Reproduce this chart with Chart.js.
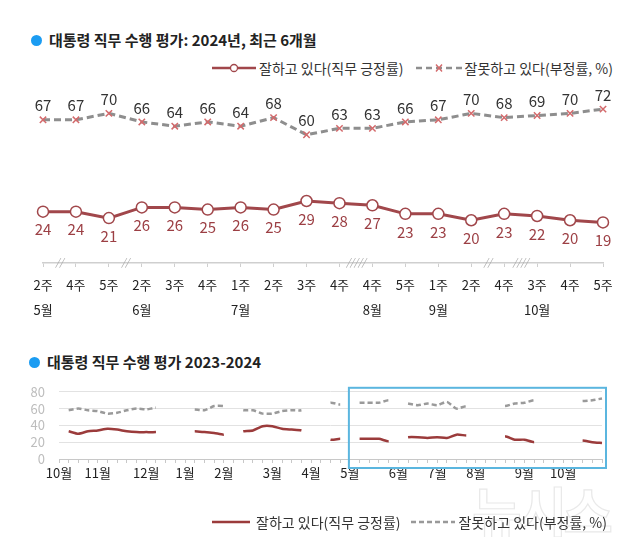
<!DOCTYPE html>
<html><head><meta charset="utf-8">
<script src="https://cdn.jsdelivr.net/npm/chart.js@4.4.1/dist/chart.umd.min.js"></script>
<style>
body{margin:0;width:640px;height:537px;background:#fff;position:relative;overflow:hidden;font-family:"Noto Sans CJK KR","Noto Sans",sans-serif;}
.title{position:absolute;font-weight:bold;font-size:15px;color:#222;display:flex;align-items:center;white-space:nowrap;line-height:20px;}
.dot{width:11px;height:11px;border-radius:50%;background:#1b9cf2;margin-right:7px;}
.legend{position:absolute;left:212px;font-size:14px;color:#333;display:flex;align-items:center;white-space:nowrap;line-height:18px;}
.legend svg{display:block}
canvas{position:absolute;left:0}
.wm{position:absolute;left:472px;top:470px;font-size:54px;font-weight:bold;color:transparent;-webkit-text-stroke:1.2px #e9e9e9;letter-spacing:-4px;}
</style></head><body>

<div class="title" style="left:31px;top:30px"><span class="dot"></span>대통령 직무 수행 평가: 2024년, 최근 6개월</div>
<div class="legend" style="top:59px">
  <svg width="44" height="12"><line x1="0" y1="6" x2="44" y2="6" stroke="#a1474b" stroke-width="2.5"/><circle cx="22" cy="6" r="3.5" fill="#fff" stroke="#a1474b" stroke-width="1.3"/></svg>
  <span style="margin-left:3px">잘하고 있다(직무 긍정률)</span>
  <svg width="46" height="12" style="margin-left:12px"><line x1="0" y1="6" x2="46" y2="6" stroke="#8e8e8e" stroke-width="2.5" stroke-dasharray="6,4"/><path d="M20 2.5 L26 9.5 M26 2.5 L20 9.5" stroke="#d46a6c" stroke-width="1.4"/></svg>
  <span style="margin-left:3px">잘못하고 있다(부정률, %)</span>
</div>

<canvas id="c1" width="640" height="250" style="top:80px"></canvas>

<div class="title" style="left:29px;top:352px"><span class="dot"></span>대통령 직무 수행 평가 2023-2024</div>
<canvas id="c2" width="640" height="120" style="top:370px"></canvas>
<div class="wm">뉴시스</div>
<div class="legend" style="top:513px">
  <svg width="38" height="12"><line x1="0" y1="6" x2="38" y2="6" stroke="#9b3b3b" stroke-width="2.5"/></svg>
  <span style="margin-left:6px">잘하고 있다(직무 긍정률)</span>
  <svg width="44" height="12" style="margin-left:10px"><line x1="0" y1="6" x2="44" y2="6" stroke="#999" stroke-width="2.5" stroke-dasharray="5,3"/></svg>
  <span style="margin-left:4px">잘못하고 있다(부정률, %)</span>
</div>

<script>
// ---------- top chart data (2024, last 6 months) ----------
const topWeeks  = ['2주','4주','5주','2주','3주','4주','1주','2주','3주','4주','4주','5주','1주','2주','4주','3주','4주','5주'];
const topMonths = ['5월','','','6월','','','7월','','','','8월','','9월','','','10월','',''];
const topPositive = [24,24,21,26,26,25,26,25,29,28,27,23,23,20,23,22,20,19];
const topNegative = [67,67,70,66,64,66,64,68,60,63,63,66,67,70,68,69,70,72];
const breakAfter = [0,2,9,13,14];
const breakMarks = ['//','//','/////','//','////'];

// ---------- bottom chart data (weekly slots, 2023 Oct 1st week .. 2024 Oct 5th week) ----------
const bottomMonthLabels = ['10월','11월','12월','1월','2월','3월','4월','5월','6월','7월','8월','9월','10월'];
const bottomMonthSlots  = [0,4,9,13,17,22,26,30,35,39,43,48,52];
const bottomPositive = [null,33,30,33,34,36,35,33,32,32,32,null,null,null,33,32,31,29,null,33,34,39,39,36,35,34,null,null,23,24,null,24,null,24,21,null,26,26,25,26,25,29,28,null,null,null,27,23,23,20,null,23,null,null,22,20,19];
const bottomNegative = [null,58,60,58,57,54,55,58,60,59,61,null,null,null,59,58,63,63,null,58,58,54,54,57,58,58,null,null,67,65,null,67,null,67,70,null,66,64,66,64,68,60,63,null,null,null,63,66,67,70,null,68,null,null,69,70,72];
const bridgedGapSlots = [32];
const highlightFromSlot = 30;

const FONT = '"Noto Sans CJK KR","Noto Sans",sans-serif';

const topLabels = topWeeks.map((w,i)=>[w, topMonths[i]]);

const valuePlugin = {
  id:'values',
  afterDatasetsDraw(chart){
    const ctx = chart.ctx;
    ctx.save();
    ctx.font = '15px ' + FONT;
    ctx.textAlign = 'center';
    ctx.textBaseline = 'middle';
    chart.data.datasets.forEach((ds,i)=>{
      const meta = chart.getDatasetMeta(i);
      meta.data.forEach((pt,j)=>{
        ctx.fillStyle = ds.labelColor;
        ctx.fillText(String(ds.data[j]), pt.x, pt.y + ds.labelOffset);
      });
    });
    const xs = chart.scales.x, yb = chart.chartArea.bottom;
    ctx.font = 'italic 10px ' + FONT;
    ctx.fillStyle = '#a8a8a8';
    breakAfter.forEach((a,k)=>{
      const x = (xs.getPixelForValue(a) + xs.getPixelForValue(a+1)) / 2;
      ctx.fillText(breakMarks[k], x, yb - 1);
    });
    ctx.restore();
  }
};

new Chart(document.getElementById('c1'), {
  type:'line',
  data:{ labels: topLabels, datasets:[
    { label:'잘하고 있다(직무 긍정률)', data: topPositive, borderColor:'#a1474b', borderWidth:3,
      pointRadius:5.5, pointBorderWidth:1.5, pointBackgroundColor:'#fff', pointBorderColor:'#a1474b',
      tension:0, labelColor:'#9c3f44', labelOffset:18 },
    { label:'잘못하고 있다(부정률, %)', data: topNegative, borderColor:'#8e8e8e', borderWidth:3, borderDash:[7,4],
      pointStyle:'crossRot', pointRadius:4.5, pointBorderWidth:1.5, pointBorderColor:'#d46a6c', pointBackgroundColor:'#d46a6c',
      tension:0, labelColor:'#333', labelOffset:-14 }
  ]},
  options:{
    responsive:false, animation:false,
    layout:{padding:{left:43,right:37,top:12,bottom:0}},
    plugins:{legend:{display:false}, tooltip:{enabled:false}},
    scales:{
      y:{display:false, min:0, max:80},
      x:{ offset:false,
          grid:{display:true, drawOnChartArea:false, drawTicks:true, tickLength:4, color:'#cfcfcf'},
          border:{display:true, color:'#cfcfcf', width:1.5},
          ticks:{autoSkip:false, maxRotation:0, padding:6, color:'#222', font:{size:13, family:FONT, lineHeight:1.9}},
          afterFit(s){ s.height = 67; } }
    }
  },
  plugins:[valuePlugin]
});

const bottomLabels = bottomPositive.map(()=> '');
bottomMonthSlots.forEach((s,i)=>{ bottomLabels[s] = bottomMonthLabels[i]; });

const gapColor = c => {
  if (!(c.p0.skip || c.p1.skip)) return undefined;
  const gapIdx = c.p0.skip ? c.p0DataIndex : c.p1DataIndex;
  return bridgedGapSlots.includes(gapIdx) ? undefined : 'rgba(0,0,0,0)';
};

const boxPlugin = {
  id:'box',
  afterDraw(chart){
    const ctx = chart.ctx, a = chart.chartArea, xs = chart.scales.x;
    ctx.save();
    ctx.strokeStyle = '#5bb6df';
    ctx.lineWidth = 2;
    const l = xs.getPixelForValue(highlightFromSlot) - 1;
    ctx.strokeRect(l, a.top - 4, a.right + 4 - l, a.bottom + 9 - (a.top - 4));
    ctx.restore();
  }
};

new Chart(document.getElementById('c2'), {
  type:'line',
  data:{ labels: bottomLabels, datasets:[
    { label:'잘하고 있다(직무 긍정률)', data: bottomPositive, borderColor:'#9b3b3b', borderWidth:2.5, pointRadius:0,
      spanGaps:true, tension:0.2, segment:{borderColor: gapColor} },
    { label:'잘못하고 있다(부정률, %)', data: bottomNegative, borderColor:'#9a9a9a', borderWidth:2.5, borderDash:[5,3], pointRadius:0,
      spanGaps:true, tension:0.2, segment:{borderColor: gapColor} }
  ]},
  options:{
    responsive:false, animation:false,
    layout:{padding:{left:0,right:38,top:19,bottom:0}},
    plugins:{legend:{display:false}, tooltip:{enabled:false}},
    scales:{
      y:{ min:0, max:80, ticks:{stepSize:20, autoSkip:false, color:'#bdbdbd', padding:14, font:{size:13, family:FONT}},
          grid:{color:'#e2e2e2', drawTicks:false}, border:{display:false},
          afterFit(s){ s.width = 59; } },
      x:{ offset:false,
          grid:{drawOnChartArea:false, drawTicks:true, tickLength:4, color:'#c8c8c8'},
          border:{display:true, color:'#c8c8c8'},
          ticks:{autoSkip:false, maxRotation:0, padding:2, color:'#222', font:{size:13, family:FONT}},
          afterFit(s){ s.height = 31; } }
    }
  },
  plugins:[boxPlugin]
});
</script>
</body></html>
